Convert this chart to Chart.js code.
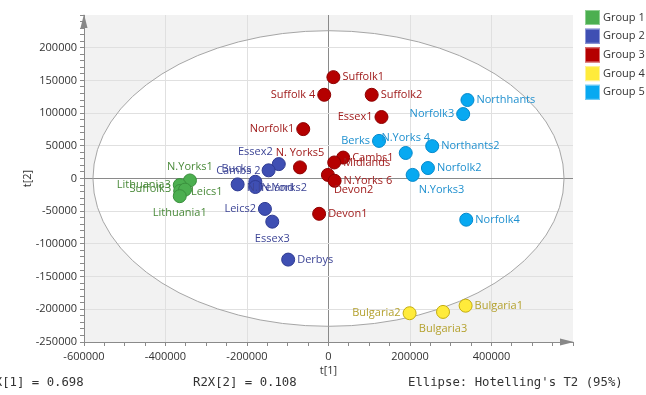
<!DOCTYPE html>
<html>
<head>
<meta charset="utf-8">
<script src="https://cdn.jsdelivr.net/npm/chart.js@4.4.1/dist/chart.umd.min.js"></script>
<style>
  html, body { margin: 0; padding: 0; background: #ffffff; }
  #wrap { width: 646px; height: 395px; position: relative; }
</style>
</head>
<body>
<div id="wrap"><canvas id="scores" width="646" height="395"></canvas></div>
<script>
// PCA score plot, t[1] vs t[2], samples coloured by group

const groupNames = ['Group 1', 'Group 2', 'Group 3', 'Group 4', 'Group 5'];

const group1Names = ['N.Yorks1', 'Lithuania3', 'Suffolk3', 'Leics1', 'Lithuania1'];
const group1T1 = [-340000, -365000, -364000, -352000, -365000];
const group1T2 = [-3000, -10000, -19000, -17000, -27000];

const group2Names = ['Essex2', 'Bucks', 'Cambs 2', 'N.Ireland', 'N.Yorks2', 'Leics2', 'Essex3', 'Derbys'];
const group2T1 = [-122000, -147000, -179500, -223000, -179500, -156000, -138000, -99000];
const group2T2 = [22000, 12500, -5000, -9000, -13000, -46500, -66000, -124000];

const group3Names = ['Suffolk1', 'Suffolk 4', 'Suffolk2', 'Essex1', 'Norfolk1', 'N. Yorks5', 'Cambs1', 'Midlands', 'Devon2', 'N.Yorks 6', 'Devon1'];
const group3T1 = [12000, -10500, 106000, 130000, -62000, -70000, 36000, 14000, -1500, 15000, -23000];
const group3T2 = [155000, 128000, 128000, 94000, 75500, 17000, 32000, 24500, 5500, -3500, -54000];

const group4Names = ['Bulgaria1', 'Bulgaria2', 'Bulgaria3'];
const group4T1 = [336500, 199000, 281000];
const group4T2 = [-194500, -206000, -204000];

const group5Names = ['Northhants', 'Norfolk3', 'Berks', 'N.Yorks 4', 'Northants2', 'Norfolk2', 'N.Yorks3', 'Norfolk4'];
const group5T1 = [341000, 330500, 124000, 189500, 254500, 244000, 206500, 338000];
const group5T2 = [120000, 98500, 57500, 39000, 49500, 16000, 5500, -63000];

// Hotelling's T2 (95%) ellipse semi-axes, in score units
const ellipseT1 = 578000;
const ellipseT2 = 226000;

const footerTexts = ['R2X[1] = 0.698', 'R2X[2] = 0.108', "Ellipse: Hotelling's T2 (95%)"];

// ---- styling ----
const fillColors   = ['#4caf50', '#3f4fb3', '#b50000', '#ffeb3b', '#08a9f1'];
const borderColors = ['#3a8f3d', '#2f3b93', '#8e0000', '#c4ad10', '#0489cc'];
const textColors   = ['#4a8a3a', '#3d4596', '#a01c1c', '#b4a12e', '#1f90cf'];
const legendBorders = ['#8fd092', '#8e97d6', '#d97070', '#fff39a', '#7ccdf6'];

const uiFont = '"Segoe UI", "Open Sans", "Noto Sans", sans-serif';
const monoFont = '"DejaVu Sans Mono", "Liberation Mono", monospace';

// where a point's name sits relative to its marker
const labelPlacement = {
  'N.Yorks1':   { dx: 0,   dy: -14, align: 'center' },
  'Lithuania3': { dx: -9,  dy: 0,   align: 'right' },
  'Suffolk3':   { dx: -9,  dy: -2,  align: 'right' },
  'Leics1':     { dx: 6,   dy: 2,   align: 'left' },
  'Lithuania1': { dx: 0,   dy: 17,  align: 'center' },
  'Essex2':     { dx: -6,  dy: -12, align: 'right' },
  'Bucks':      { dx: -17, dy: -1,  align: 'right' },
  'Cambs 2':    { dx: -17, dy: -11, align: 'center' },
  'N.Ireland':  { dx: 9,   dy: 3,   align: 'left' },
  'N.Yorks2':   { dx: 6,   dy: 1,   align: 'left' },
  'Essex3':     { dx: 0,   dy: 17,  align: 'center' },
  'Leics2':     { dx: -9,  dy: 0,   align: 'right' },
  'Suffolk 4':  { dx: -9,  dy: 0,   align: 'right' },
  'Essex1':     { dx: -9,  dy: 0,   align: 'right' },
  'Norfolk1':   { dx: -9,  dy: 0,   align: 'right' },
  'N. Yorks5':  { dx: 0,   dy: -15, align: 'center' },
  'Devon2':     { dx: 6,   dy: 15,  align: 'left' },
  'Norfolk3':   { dx: -9,  dy: 0,   align: 'right' },
  'Berks':      { dx: -9,  dy: 0,   align: 'right' },
  'N.Yorks 4':  { dx: 0,   dy: -15, align: 'center' },
  'N.Yorks3':   { dx: 6,   dy: 15,  align: 'left' },
  'Bulgaria2':  { dx: -9,  dy: 0,   align: 'right' },
  'Bulgaria3':  { dx: 0,   dy: 17,  align: 'center' }
};

const groups = [
  [group1Names, group1T1, group1T2],
  [group2Names, group2T1, group2T2],
  [group3Names, group3T1, group3T2],
  [group4Names, group4T1, group4T2],
  [group5Names, group5T1, group5T2]
];

const datasets = groups.map(([names, t1, t2], g) => ({
  label: groupNames[g],
  data: t1.map((v, i) => ({ x: v, y: t2[i], name: names[i] })),
  backgroundColor: fillColors[g],
  borderColor: borderColors[g],
  borderWidth: 1,
  pointRadius: 6.5,
  pointHoverRadius: 6.5
}));

// grey plot background with the white confidence ellipse on top of it
const ellipsePlugin = {
  id: 'ellipsePlugin',
  beforeDraw(chart) {
    const { ctx, chartArea: a, scales: { x, y } } = chart;
    const cx = x.getPixelForValue(0), cy = y.getPixelForValue(0);
    const rx = x.getPixelForValue(ellipseT1) - cx;
    const ry = cy - y.getPixelForValue(ellipseT2);
    ctx.save();
    ctx.fillStyle = '#f2f2f2';
    ctx.fillRect(a.left, a.top, a.right - a.left, a.bottom - a.top);
    ctx.beginPath();
    ctx.ellipse(cx, cy, rx, ry, 0, 0, Math.PI * 2);
    ctx.fillStyle = '#ffffff';
    ctx.fill();
    ctx.restore();
  },
  beforeDatasetsDraw(chart) {
    const { ctx, scales: { x, y } } = chart;
    const cx = x.getPixelForValue(0), cy = y.getPixelForValue(0);
    const rx = x.getPixelForValue(ellipseT1) - cx;
    const ry = cy - y.getPixelForValue(ellipseT2);
    ctx.save();
    ctx.beginPath();
    ctx.ellipse(cx, cy, rx, ry, 0, 0, Math.PI * 2);
    ctx.strokeStyle = '#a6a6a6';
    ctx.lineWidth = 1;
    ctx.stroke();
    ctx.restore();
  }
};

// sample names next to each marker
const namePlugin = {
  id: 'namePlugin',
  afterDatasetsDraw(chart) {
    const { ctx } = chart;
    ctx.save();
    ctx.font = '11px ' + uiFont;
    ctx.textBaseline = 'middle';
    chart.data.datasets.forEach((ds, g) => {
      const meta = chart.getDatasetMeta(g);
      ctx.fillStyle = textColors[g];
      meta.data.forEach((pt, i) => {
        const name = ds.data[i].name;
        const p = labelPlacement[name] || { dx: 9, dy: 0, align: 'left' };
        ctx.textAlign = p.align;
        ctx.fillText(name, pt.x + p.dx, pt.y + p.dy);
      });
    });
    ctx.restore();
  }
};

// axis arrows, legend and footer statistics
const decorPlugin = {
  id: 'decorPlugin',
  afterDraw(chart) {
    const { ctx, chartArea: a } = chart;
    ctx.save();
    ctx.fillStyle = '#888888';
    ctx.beginPath();
    ctx.moveTo(a.left, a.top - 1);
    ctx.lineTo(a.left - 3.5, a.top + 13);
    ctx.lineTo(a.left + 3.5, a.top + 13);
    ctx.closePath();
    ctx.fill();
    ctx.beginPath();
    ctx.moveTo(a.right + 1, a.bottom);
    ctx.lineTo(a.right - 13, a.bottom - 3.5);
    ctx.lineTo(a.right - 13, a.bottom + 3.5);
    ctx.closePath();
    ctx.fill();

    // legend
    ctx.font = '11px ' + uiFont;
    ctx.textBaseline = 'middle';
    ctx.textAlign = 'left';
    chart.data.datasets.forEach((ds, g) => {
      const top = 10 + g * 18.7;
      ctx.fillStyle = fillColors[g];
      ctx.fillRect(585, top, 15, 15);
      ctx.strokeStyle = legendBorders[g];
      ctx.lineWidth = 1;
      ctx.strokeRect(585.5, top + 0.5, 14, 14);
      ctx.fillStyle = '#333333';
      ctx.fillText(ds.label, 603, top + 7.5);
    });

    // footer
    ctx.font = '12.3px ' + monoFont;
    ctx.fillStyle = '#333333';
    ctx.textBaseline = 'middle';
    ctx.fillText(footerTexts[0], -20, 383);
    ctx.fillText(footerTexts[1], 193, 383);
    ctx.fillText(footerTexts[2], 408, 383);
    ctx.restore();
  }
};

const tickFont = { family: uiFont, size: 11 };

new Chart(document.getElementById('scores'), {
  type: 'scatter',
  data: { datasets },
  plugins: [ellipsePlugin, namePlugin, decorPlugin],
  options: {
    responsive: false,
    devicePixelRatio: 1,
    animation: false,
    layout: { padding: { left: 0, right: 73, top: 15, bottom: 0 } },
    plugins: { legend: { display: false }, tooltip: { enabled: false } },
    scales: {
      x: {
        type: 'linear',
        min: -600000,
        max: 600000,
        afterFit(scale) { scale.height = 53; },
        ticks: {
          stepSize: 50000,
          maxTicksLimit: 100,
          autoSkip: false,
          maxRotation: 0,
          padding: 4,
          color: '#333333',
          font: tickFont,
          callback: v => (v % 200000 === 0 && v !== 600000) ? String(v) : ''
        },
        grid: {
          drawTicks: true,
          tickLength: 4,
          tickColor: '#8a8a8a',
          color: c => {
            const v = c.tick ? c.tick.value : null;
            if (v === 0) return '#8a8a8a';
            if (v !== null && v % 200000 === 0 && Math.abs(v) !== 600000) return '#e0e0e0';
            return 'rgba(0,0,0,0)';
          }
        },
        border: { display: true, color: '#8a8a8a', width: 1 },
        title: { display: true, text: 't[1]', color: '#333333', font: tickFont, padding: { top: 0, bottom: 18 } }
      },
      y: {
        type: 'linear',
        min: -250000,
        max: 250000,
        afterFit(scale) { scale.width = 84; },
        ticks: {
          stepSize: 10000,
          maxTicksLimit: 100,
          autoSkip: false,
          padding: 3,
          color: '#333333',
          font: tickFont,
          callback: v => (v % 50000 === 0 && v !== 250000) ? String(v) : ''
        },
        grid: {
          drawTicks: true,
          tickLength: 4,
          tickColor: '#8a8a8a',
          color: c => {
            const v = c.tick ? c.tick.value : null;
            if (v === 0) return '#8a8a8a';
            if (v !== null && v % 50000 === 0 && Math.abs(v) !== 250000) return '#e0e0e0';
            return 'rgba(0,0,0,0)';
          }
        },
        border: { display: true, color: '#8a8a8a', width: 1 },
        title: { display: true, text: 't[2]', color: '#333333', font: tickFont, padding: { top: 21, bottom: 0 } }
      }
    }
  }
});
</script>
</body>
</html>
